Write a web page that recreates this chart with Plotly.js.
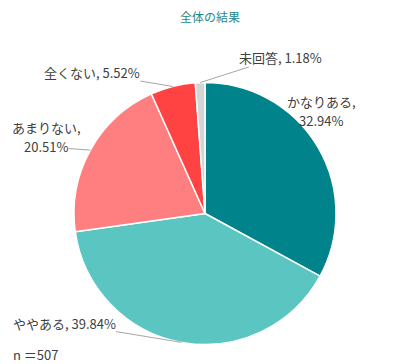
<!DOCTYPE html>
<html>
<head>
<meta charset="utf-8">
<script src="https://cdn.plot.ly/plotly-3.0.1.min.js"></script>
<style>html,body{margin:0;padding:0;background:#fff;}#chart{width:397px;height:364px;}</style>
</head>
<body>
<div id="chart"></div>
<script>
const categories = ["かなりある", "ややある", "あまりない", "全くない", "未回答"];
const values = [32.94, 39.84, 20.51, 5.52, 1.18];
const colors = ["#00838A", "#5BC6C1", "#FF7F80", "#FF4343", "#D4D4D4"];
const titleText = "全体の結果";
const noteText = "n ＝507";

const W = 397, H = 364;
const cx = 205, cy = 213.5, R = 131;
const font = "'Noto Sans CJK JP', 'Noto Sans', sans-serif";
const txtFont = {family: font, size: 13, color: "#404040"};

// label placement (text centres in px); two-line labels get a second line position
const labelPos = [
  {x: 321, y: 101, x2: 321, y2: 121, line: false},
  {x: 64, y: 323, line: true},
  {x: 46, y: 127, x2: 46, y2: 147, line: true},
  {x: 92, y: 73, line: true},
  {x: 280, y: 57, line: true}
];

const total = values.reduce((a, b) => a + b, 0);
let cum = 0;
const annotations = [];
function plain(txt, x, y) {
  annotations.push({
    xref: "paper", yref: "paper", x: x / W, y: 1 - y / H,
    xanchor: "center", yanchor: "middle", showarrow: false,
    text: txt, font: txtFont, borderpad: 0
  });
}
values.forEach((v, i) => {
  const mid = (cum + v / 2) / total * 2 * Math.PI;
  cum += v;
  const tx = cx + R * Math.sin(mid);
  const ty = cy - R * Math.cos(mid);
  const p = labelPos[i];
  const pct = v.toFixed(2) + "%";
  let arrowText, ax, ay;
  if (p.x2 !== undefined) {
    plain(categories[i] + ",", p.x, p.y);
    arrowText = pct; ax = p.x2; ay = p.y2;
  } else {
    arrowText = categories[i] + ", " + pct; ax = p.x; ay = p.y;
  }
  if (p.line) {
    annotations.push({
      xref: "paper", yref: "paper",
      x: tx / W, y: 1 - ty / H,
      axref: "pixel", ayref: "pixel",
      ax: ax - tx, ay: ay - ty,
      showarrow: true, arrowhead: 0, arrowwidth: 1, arrowcolor: "#A6A6A6",
      text: arrowText, font: txtFont, borderpad: 0
    });
  } else {
    plain(arrowText, ax, ay);
  }
});
annotations.push({
  xref: "paper", yref: "paper", x: 11 / W, y: 1 - 354 / H,
  xanchor: "left", yanchor: "middle", showarrow: false,
  text: noteText, font: txtFont
});

const trace = {
  type: "pie",
  labels: categories,
  values: values,
  sort: false,
  direction: "clockwise",
  rotation: 0,
  marker: {colors: colors, line: {color: "#FFFFFF", width: 1.5}},
  textinfo: "none",
  hoverinfo: "label+percent",
  domain: {x: [(cx - R) / W, (cx + R) / W], y: [1 - (cy + R) / H, 1 - (cy - R) / H]}
};

const layout = {
  width: W, height: H,
  margin: {l: 0, r: 0, t: 0, b: 0},
  paper_bgcolor: "#FFFFFF",
  showlegend: false,
  title: {text: titleText, x: 210 / W, xanchor: "center", y: 1 - 18 / H, yanchor: "middle",
          font: {family: font, size: 12, color: "#1D8A8E"}},
  annotations: annotations
};

Plotly.newPlot("chart", [trace], layout, {displayModeBar: false, staticPlot: true});
</script>
</body>
</html>
